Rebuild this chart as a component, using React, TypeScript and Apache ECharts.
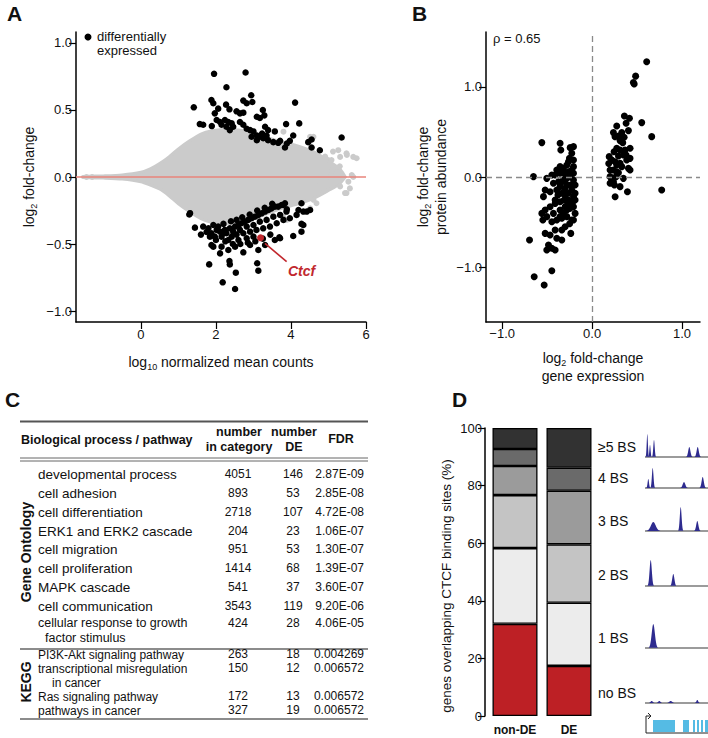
import React, { useEffect, useRef } from "react";
import * as echarts from "echarts";

// ---------- Panel A: MA plot ----------
const cloudX = [-1.55, -1.0, -0.5, 0, 0.25, 0.5, 0.75, 1.0, 1.3, 1.6, 1.9, 2.2, 2.6, 3.0, 3.4, 3.8, 4.2, 4.6, 5.0, 5.3, 5.45];
const cloudUpper = [0.004, 0.008, 0.015, 0.035, 0.06, 0.1, 0.15, 0.21, 0.27, 0.32, 0.345, 0.355, 0.35, 0.33, 0.29, 0.26, 0.23, 0.19, 0.12, 0.06, 0.0];
const cloudLower = [-0.004, -0.008, -0.015, -0.035, -0.06, -0.09, -0.14, -0.2, -0.26, -0.31, -0.34, -0.35, -0.34, -0.31, -0.27, -0.23, -0.2, -0.16, -0.1, -0.05, 0.0];
const grayOutliers = [
  [-1.45, 0], [-1.3, 0], [5.31, 0.15], [5.49, 0.165], [5.66, 0.15], [4.99, 0.127], [5.66, 0.0], [5.57, -0.085],
  [5.44, -0.12], [5.53, -0.035], [4.77, -0.06], [4.68, -0.196], [4.51, -0.234], [4.6, -0.17], [3.89, -0.32],
  [3.79, -0.296], [4.6, 0.3], [4.91, 0.152], [5.08, 0.127], [5.26, 0.2], [5.48, 0.177], [5.62, 0.015], [5.75, 0.14],
  [3.8, 0.338], [4.51, 0.3], [5.1, 0.05], [5.2, -0.04], [5.3, 0.08], [4.9, -0.1], [5.0, 0.0], [5.12, 0.19], [5.31, -0.07], [5.48, -0.12],
];
const deUp = [
  [1.95, 0.77], [2.79, 0.78], [2.28, 0.67], [2.94, 0.61], [1.41, 0.52], [1.88, 0.575], [1.93, 0.55], [2.73, 0.57], [2.82, 0.55],
  [2.97, 0.56], [4.11, 0.555], [2.27, 0.54], [2.36, 0.505], [2.06, 0.51], [1.97, 0.475], [2.55, 0.49], [2.64, 0.475], [2.73, 0.48],
  [3.25, 0.5], [3.29, 0.46], [3.09, 0.45], [3.17, 0.44], [1.57, 0.395], [1.66, 0.39], [1.89, 0.38], [2.02, 0.425], [2.11, 0.41],
  [2.24, 0.425], [2.33, 0.41], [2.42, 0.4], [2.46, 0.375], [2.28, 0.375], [2.15, 0.39], [2.37, 0.35], [2.64, 0.41], [2.73, 0.39],
  [2.82, 0.36], [2.91, 0.35], [3.0, 0.34], [3.09, 0.31], [3.17, 0.3], [3.26, 0.29], [3.39, 0.275], [3.53, 0.26], [3.66, 0.255],
  [3.09, 0.275], [3.23, 0.325], [3.35, 0.31], [2.95, 0.3], [3.31, 0.375], [3.39, 0.35], [3.57, 0.34], [3.71, 0.27], [3.84, 0.22],
  [3.89, 0.25], [3.97, 0.27], [4.06, 0.31], [3.87, 0.395], [4.22, 0.4], [4.46, 0.26], [4.55, 0.22], [4.77, 0.2], [5.35, 0.295], [4.55, 0.28],
];
const deDown = [
  [1.66, -0.37], [1.8, -0.383], [1.93, -0.358], [2.06, -0.37], [2.11, -0.408], [1.88, -0.42], [1.97, -0.445], [1.84, -0.445],
  [2.15, -0.445], [2.28, -0.42], [2.24, -0.395], [2.37, -0.383], [2.51, -0.37], [2.6, -0.358], [2.68, -0.345], [2.77, -0.333],
  [2.86, -0.32], [2.95, -0.308], [3.04, -0.296], [3.13, -0.283], [3.22, -0.271], [3.31, -0.258], [3.4, -0.246], [3.48, -0.234],
  [3.57, -0.221], [3.66, -0.221], [3.75, -0.209], [3.84, -0.196], [2.42, -0.445], [2.55, -0.43], [2.73, -0.42], [2.91, -0.408],
  [3.08, -0.395], [3.26, -0.383], [3.44, -0.37], [3.62, -0.345], [3.8, -0.32], [3.97, -0.308], [4.15, -0.283], [4.33, -0.258],
  [2.46, -0.408], [2.64, -0.395], [2.82, -0.37], [3.0, -0.358], [3.17, -0.333], [3.35, -0.32], [3.53, -0.296], [3.71, -0.283],
  [3.88, -0.258], [2.02, -0.395], [2.2, -0.42], [2.33, -0.47], [2.6, -0.47], [2.82, -0.457], [3.0, -0.445], [1.88, -0.507],
  [2.15, -0.52], [2.33, -0.545], [2.51, -0.52], [2.73, -0.562], [2.91, -0.507], [3.13, -0.545], [3.31, -0.507], [3.57, -0.47],
  [3.71, -0.457], [4.06, -0.44], [4.28, -0.408], [4.33, -0.358], [4.42, -0.258], [4.28, -0.196], [4.2, -0.246], [1.82, -0.652],
  [2.36, -0.627], [2.37, -0.652], [2.53, -0.714], [3.1, -0.644], [3.13, -0.699], [2.18, -0.786], [2.51, -0.836], [1.31, -0.27],
  [1.29, -0.28], [1.44, -0.378], [1.93, -0.52], [2.11, -0.57], [4.28, -0.35], [4.51, -0.246], [3.69, -0.45], [3.79, -0.209],
  [3.89, -0.241], [2.4, -0.33], [2.55, -0.32], [2.7, -0.3], [2.9, -0.28], [3.1, -0.25], [3.3, -0.23], [3.5, -0.2], [2.2, -0.35],
  [1.75, -0.41], [1.6, -0.43], [2.0, -0.47], [2.25, -0.48], [2.45, -0.5], [2.65, -0.5], [2.85, -0.49], [3.05, -0.48], [3.25, -0.46], [3.45, -0.43],
];
const ctcfPoint = [3.19, -0.453];
const ctcfArrow = [[3.885, -0.632], [3.307, -0.495]];

// ---------- Panel B: fold-change correlation ----------
const bPoints = [
  [0.607, 1.28], [0.484, 1.12], [0.459, 1.05], [0.468, 1.033], [0.552, 0.604], [0.663, 0.448], [0.774, -0.144],
  [0.359, 0.678], [0.415, 0.652], [0.378, 0.596], [0.274, 0.567], [0.237, 0.493], [0.293, 0.456], [0.33, 0.493], [0.356, 0.441],
  [0.404, 0.515], [0.311, 0.404], [0.341, 0.381], [0.255, 0.448], [0.274, 0.318], [0.311, 0.3], [0.244, 0.281], [0.293, 0.233],
  [0.378, 0.244], [0.422, 0.207], [0.366, 0.3], [0.422, 0.319], [0.219, 0.189], [0.256, 0.17], [0.311, 0.152], [0.274, 0.133],
  [0.33, 0.115], [0.404, 0.096], [0.348, 0.244], [0.385, 0.189], [0.237, 0.078], [0.293, 0.048], [0.267, 0.004], [0.348, -0.015],
  [0.422, 0.078], [0.2, 0.078], [0.274, 0.059], [0.2, -0.07], [0.248, -0.089], [0.311, -0.107], [0.219, -0.033], [0.2, 0.004],
  [0.237, -0.052], [0.256, -0.22], [0.393, -0.163], [0.185, 0.15], [0.19, 0.226],
  [-0.559, 0.382], [-0.356, 0.374], [-0.348, 0.3], [-0.244, 0.326], [-0.252, 0.207], [-0.652, 0.004], [-0.696, -0.7],
  [-0.644, -1.107], [-0.533, -1.2], [-0.448, -1.04], [-0.504, -0.015], [-0.448, 0.022], [-0.393, 0.078], [-0.356, 0.041],
  [-0.319, 0.096], [-0.281, 0.133], [-0.263, 0.059], [-0.226, 0.078], [-0.43, -0.07], [-0.374, -0.052], [-0.319, -0.033],
  [-0.281, -0.015], [-0.244, 0.004], [-0.207, -0.033], [-0.189, -0.089], [-0.541, -0.218], [-0.467, -0.163], [-0.393, -0.144],
  [-0.337, -0.181], [-0.3, -0.126], [-0.263, -0.181], [-0.226, -0.144], [-0.189, -0.181], [-0.522, -0.366], [-0.467, -0.33],
  [-0.411, -0.293], [-0.356, -0.274], [-0.311, -0.256], [-0.263, -0.256], [-0.215, -0.274], [-0.207, -0.33], [-0.244, -0.348],
  [-0.3, -0.33], [-0.356, -0.366], [-0.43, -0.404], [-0.559, -0.404], [-0.548, -0.478], [-0.504, -0.44], [-0.448, -0.496],
  [-0.393, -0.478], [-0.337, -0.459], [-0.281, -0.44], [-0.226, -0.478], [-0.237, -0.626], [-0.3, -0.552], [-0.337, -0.589],
  [-0.411, -0.589], [-0.522, -0.626], [-0.467, -0.644], [-0.393, -0.681], [-0.337, -0.7], [-0.485, -0.755], [-0.448, -0.792],
  [-0.504, -0.811], [-0.411, -0.811], [-0.356, 0.115], [-0.311, 0.041], [-0.263, 0.17], [-0.207, 0.189], [-0.226, 0.263],
  [-0.207, 0.337], [-0.411, 0.022], [-0.522, -0.144], [-0.356, -0.107], [-0.281, -0.089], [-0.207, 0.041], [-0.207, 0.115],
  [-0.411, -0.256], [-0.356, -0.44], [-0.281, -0.366], [-0.207, -0.218], [-0.189, -0.256], [-0.189, -0.404], [-0.207, -0.478],
  [-0.3, -0.2], [-0.33, -0.05], [-0.27, -0.3], [-0.32, -0.4], [-0.25, -0.52], [-0.38, -0.2], [-0.29, 0.0], [-0.24, -0.09],
];
const rhoText = "ρ = 0.65";

// ---------- Panel C: enrichment table ----------
const goTerms = ["developmental process", "cell adhesion", "cell differentiation", "ERK1 and ERK2 cascade", "cell migration", "cell proliferation", "MAPK cascade", "cell communication", "cellular response to growth"];
const goTermsLine2 = ["", "", "", "", "", "", "", "", "factor stimulus"];
const goCounts = [4051, 893, 2718, 204, 951, 1414, 541, 3543, 424];
const goDE = [146, 53, 107, 23, 53, 68, 37, 119, 28];
const goFDR = ["2.87E-09", "2.85E-08", "4.72E-08", "1.06E-07", "1.30E-07", "1.39E-07", "3.60E-07", "9.20E-06", "4.06E-05"];
const keggTerms = ["PI3K-Akt signaling pathway", "transcriptional misregulation", "Ras signaling pathway", "pathways in cancer"];
const keggTermsLine2 = ["", "in cancer", "", ""];
const keggCounts = [263, 150, 172, 327];
const keggDE = [18, 12, 13, 19];
const keggFDR = ["0.004269", "0.006572", "0.006572", "0.006572"];

// ---------- Panel D: CTCF binding sites ----------
const dCategories = ["non-DE", "DE"];
const bsLevels = ["no BS", "1 BS", "2 BS", "3 BS", "4 BS", "≥5 BS"];
const bsNonDE = [32.0, 26.3, 18.4, 10.1, 5.9, 7.3];
const bsDE = [17.4, 21.9, 20.3, 18.6, 8.0, 13.8];
const bsColors = ["#bd2025", "#ececec", "#c4c4c4", "#9b9b9b", "#6a6a6a", "#323232"];
// example CTCF ChIP tracks: [track, position, height, width]
const trackBase = [283, 228, 166, 111, 68, 37]; // no BS .. ≥5 BS
const peaks = [
  [5, 2.3, 23, 0.6], [5, 5, 12, 0.6], [5, 9, 17, 0.7], [5, 44.3, 10, 1.1], [5, 52.7, 10, 1.1],
  [4, 3.3, 9, 0.7], [4, 7.7, 20, 0.8], [4, 39, 6, 1.3], [4, 57.7, 11, 1.1],
  [3, 8.3, 9, 2.4], [3, 35.7, 24, 0.9], [3, 52.3, 10, 1.1],
  [2, 5.7, 26, 1.1], [2, 28.3, 12, 1.1],
  [1, 8.3, 24, 1.6],
  [0, 6.7, 2, 1.1], [0, 14.3, 2, 1.1], [0, 25.7, 2, 1.4], [0, 52.3, 3, 0.9],
];
const exons = [[8, 30], [38, 44], [48, 50], [52, 54], [56, 58], [60, 63]];

const FONT = '"Liberation Sans", Arial, Helvetica, sans-serif';

const fmt1 = (v: number) => (v < 0 ? "\u2212" : "") + Math.abs(v).toFixed(1);

const richSub = {
  a: { fontSize: 14, color: "#111", fontFamily: FONT, lineHeight: 18 },
  s: { fontSize: 9, color: "#111", fontFamily: FONT, padding: [9, 0, 0, 0] },
};

function baseAxis(extra: any) {
  return {
    axisLine: { show: true, onZero: false, lineStyle: { color: "#000", width: 1.5 } },
    axisTick: { show: true, length: 7, lineStyle: { color: "#000", width: 1.2 } },
    axisLabel: { color: "#111", fontSize: 13, fontFamily: FONT, margin: 4 },
    splitLine: { show: false },
    ...extra,
  };
}

function txt(text: string, x: number, y: number, o: any = {}) {
  return {
    type: "text",
    x,
    y,
    rotation: o.rotation || 0,
    z: 100,
    style: {
      text,
      fill: o.fill || "#111",
      fontSize: o.fontSize || 13,
      fontWeight: o.fontWeight || "normal",
      fontStyle: o.fontStyle || "normal",
      fontFamily: FONT,
      align: o.align || "left",
      verticalAlign: "middle",
    },
  };
}

function hline(x1: number, x2: number, y: number, w: number, c: string) {
  return { type: "line", z: 100, shape: { x1, y1: y, x2, y2: y }, style: { stroke: c, lineWidth: w } };
}

function buildGraphic() {
  const g: any[] = [];
  g.push(txt("A", 7, 13, { fontSize: 21, fontWeight: "bold" }));
  g.push(txt("B", 412, 13, { fontSize: 21, fontWeight: "bold" }));
  g.push(txt("C", 5, 399, { fontSize: 21, fontWeight: "bold" }));
  g.push(txt("D", 452, 399, { fontSize: 21, fontWeight: "bold" }));
  // legend in A
  g.push({ type: "circle", z: 100, shape: { cx: 88, cy: 37, r: 3.5 }, style: { fill: "#000" } });
  g.push(txt("differentially", 97, 36, { fontSize: 13 }));
  g.push(txt("expressed", 97, 50, { fontSize: 13 }));
  g.push(txt("Ctcf", 288, 271, { fontSize: 14, fontWeight: "bold", fontStyle: "italic", fill: "#c1272d" }));
  g.push(txt(rhoText, 493, 38, { fontSize: 13 }));
  // table C
  const L = 20, R = 368;
  g.push(hline(L, R, 421.5, 2, "#555"));
  g.push(hline(L, R, 458, 1, "#666"));
  g.push(hline(L, R, 461, 1, "#666"));
  g.push(hline(L, R, 649, 1.3, "#666"));
  g.push(hline(L, R, 719, 1.3, "#666"));
  g.push(txt("Biological process / pathway", 21, 440, { fontSize: 12.5, fontWeight: "bold" }));
  g.push(txt("number", 239, 432, { fontSize: 12.5, fontWeight: "bold", align: "center" }));
  g.push(txt("in category", 239, 447, { fontSize: 12.5, fontWeight: "bold", align: "center" }));
  g.push(txt("number", 294, 432, { fontSize: 12.5, fontWeight: "bold", align: "center" }));
  g.push(txt("DE", 294, 447, { fontSize: 12.5, fontWeight: "bold", align: "center" }));
  g.push(txt("FDR", 341, 439, { fontSize: 12.5, fontWeight: "bold", align: "center" }));
  const goY = [474, 493, 512, 531, 549, 568, 587, 606, 623];
  goTerms.forEach((t, i) => {
    const fs = goTermsLine2[i] ? 12.5 : 13.5;
    g.push(txt(t, 38, goY[i], { fontSize: fs }));
    if (goTermsLine2[i]) g.push(txt(goTermsLine2[i], 45, goY[i] + 15, { fontSize: fs }));
    g.push(txt(String(goCounts[i]), 238, goY[i], { fontSize: 12, align: "center" }));
    g.push(txt(String(goDE[i]), 293, goY[i], { fontSize: 12, align: "center" }));
    g.push(txt(goFDR[i], 364, goY[i], { fontSize: 12, align: "right" }));
  });
  const kY = [655, 669, 697, 711];
  keggTerms.forEach((t, i) => {
    g.push(txt(t, 38, kY[i], { fontSize: 12 }));
    if (keggTermsLine2[i]) g.push(txt(keggTermsLine2[i], 52, kY[i] + 14, { fontSize: 12 }));
    g.push(txt(String(keggCounts[i]), 238, kY[i] - 1, { fontSize: 12, align: "center" }));
    g.push(txt(String(keggDE[i]), 293, kY[i] - 1, { fontSize: 12, align: "center" }));
    g.push(txt(keggFDR[i], 364, kY[i] - 1, { fontSize: 12, align: "right" }));
  });
  g.push(txt("Gene Ontology", 26, 552, { fontSize: 14, fontWeight: "bold", align: "center", rotation: Math.PI / 2 }));
  g.push(txt("KEGG", 26, 682, { fontSize: 14, fontWeight: "bold", align: "center", rotation: Math.PI / 2 }));
  // D axis title and level labels
  g.push(txt("genes overlapping CTCF binding sites (%)", 446, 586, { fontSize: 13.5, align: "center", rotation: Math.PI / 2 }));
  const lvY = [693, 638, 575, 521, 478, 447];
  bsLevels.forEach((l, i) => g.push(txt(l, 598, lvY[i], { fontSize: 14 })));
  return g;
}

function buildOption() {
  return {
    animation: false,
    textStyle: { fontFamily: FONT },
    grid: [
      { left: 76, top: 32, width: 290, height: 290 },
      { left: 486, top: 32, width: 214, height: 290 },
      { left: 488, top: 428, width: 108, height: 288 },
      { left: 645, top: 420, width: 63, height: 318 },
    ],
    xAxis: [
      baseAxis({
        type: "value", gridIndex: 0, min: -1.73, max: 6,
        axisTick: { show: true, length: 7, lineStyle: { color: "#000", width: 1.2 }, customValues: [0, 2, 4, 6] },
        axisLabel: { color: "#111", fontSize: 13, fontFamily: FONT, margin: 6, customValues: [0, 2, 4, 6] },
        name: "{a|log}{s|10}{a| normalized mean counts}", nameLocation: "middle", nameGap: 31,
        nameTextStyle: { rich: richSub },
      }),
      baseAxis({
        type: "value", gridIndex: 1, min: -1.18, max: 1.2,
        axisTick: { show: true, length: 7, lineStyle: { color: "#000", width: 1.2 }, customValues: [-1, 0, 1] },
        axisLabel: { color: "#111", fontSize: 13, fontFamily: FONT, margin: 5, customValues: [-1, 0, 1], formatter: fmt1 },
        name: "{a|log}{s|2}{a| fold-change}\n{a|gene expression}", nameLocation: "middle", nameGap: 27,
        nameTextStyle: { rich: richSub },
      }),
      {
        type: "category", gridIndex: 2, data: dCategories,
        axisLine: { show: false }, axisTick: { show: false },
        axisLabel: { color: "#111", fontSize: 12, fontWeight: "bold", fontFamily: FONT, margin: 8, interval: 0 },
      },
      { type: "value", gridIndex: 3, min: 0, max: 63, show: false },
    ],
    yAxis: [
      baseAxis({
        type: "value", gridIndex: 0, min: -1.082, max: 1.082,
        axisTick: { show: true, length: 7, lineStyle: { color: "#000", width: 1.2 }, customValues: [-1, -0.5, 0, 0.5, 1] },
        axisLabel: { color: "#111", fontSize: 13, fontFamily: FONT, margin: 4, customValues: [-1, -0.5, 0, 0.5, 1], formatter: fmt1 },
        name: "{a|log}{s|2}{a| fold-change}", nameLocation: "middle", nameGap: 38,
        nameTextStyle: { rich: richSub },
      }),
      baseAxis({
        type: "value", gridIndex: 1, min: -1.61, max: 1.61,
        axisTick: { show: true, length: 7, lineStyle: { color: "#000", width: 1.2 }, customValues: [-1, 0, 1] },
        axisLabel: { color: "#111", fontSize: 13, fontFamily: FONT, margin: 4, customValues: [-1, 0, 1], formatter: fmt1 },
        name: "{a|log}{s|2}{a| fold-change}\n{a|protein abundance}", nameLocation: "middle", nameGap: 36,
        nameTextStyle: { rich: richSub },
      }),
      baseAxis({
        type: "value", gridIndex: 2, min: 0, max: 100, interval: 20, offset: 3,
        axisLabel: { color: "#111", fontSize: 13, fontFamily: FONT, margin: 3 },
      }),
      { type: "value", gridIndex: 3, min: 0, max: 318, inverse: true, show: false },
    ],
    series: [
      {
        type: "custom", xAxisIndex: 0, yAxisIndex: 0, silent: true, z: 1,
        data: [[0, 0]],
        renderItem: (_p: any, api: any) => {
          const pts: number[][] = [];
          for (let i = 0; i < cloudX.length; i++) pts.push(api.coord([cloudX[i], cloudUpper[i]]));
          for (let i = cloudX.length - 1; i >= 0; i--) pts.push(api.coord([cloudX[i], cloudLower[i]]));
          return { type: "polygon", shape: { points: pts, smooth: 0.25 }, style: { fill: "#cbcbcb", stroke: "#cbcbcb", lineWidth: 3 } };
        },
      },
      {
        type: "scatter", xAxisIndex: 0, yAxisIndex: 0, z: 2, silent: true,
        symbolSize: 6, itemStyle: { color: "#cbcbcb", opacity: 1 }, data: grayOutliers,
        markLine: {
          silent: true, symbol: "none", label: { show: false },
          lineStyle: { color: "#e8857b", width: 1.6, type: "solid" },
          data: [{ yAxis: 0 }],
        },
      },
      {
        type: "scatter", xAxisIndex: 0, yAxisIndex: 0, z: 3, silent: true,
        symbolSize: 6.5, itemStyle: { color: "#000", opacity: 1 }, data: [...deUp, ...deDown],
      },
      {
        type: "scatter", xAxisIndex: 0, yAxisIndex: 0, z: 4, silent: true,
        symbolSize: 7, itemStyle: { color: "#c1272d", opacity: 1 }, data: [ctcfPoint],
        markLine: {
          silent: true, symbol: ["none", "arrow"], symbolSize: [0, 8], label: { show: false },
          lineStyle: { color: "#c1272d", width: 1.6, type: "solid" },
          data: [[{ coord: ctcfArrow[0] }, { coord: ctcfArrow[1] }]],
        },
      },
      {
        type: "scatter", xAxisIndex: 1, yAxisIndex: 1, z: 3, silent: true,
        symbolSize: 7, itemStyle: { color: "#000", opacity: 1 }, data: bPoints,
        markLine: {
          silent: true, symbol: "none", label: { show: false },
          lineStyle: { color: "#8a8a8a", width: 1.3, type: [6, 4] },
          data: [{ xAxis: 0 }, { yAxis: 0 }],
        },
      },
      ...bsLevels.map((lv, i) => ({
        type: "bar", name: lv, stack: "bs", xAxisIndex: 2, yAxisIndex: 2, barWidth: 45, silent: true,
        itemStyle: { color: bsColors[i], borderColor: "#000", borderWidth: 1.3 },
        data: [bsNonDE[i], bsDE[i]],
      })),
      {
        type: "custom", xAxisIndex: 3, yAxisIndex: 3, silent: true,
        data: trackBase.map((b, i) => [i, b]),
        renderItem: (_p: any, api: any) => {
          const b = api.value(1);
          const p1 = api.coord([0, b]);
          const p2 = api.coord([63, b]);
          return { type: "line", shape: { x1: p1[0], y1: p1[1], x2: p2[0], y2: p2[1] }, style: { stroke: "#7a7a7a", lineWidth: 1.3 } };
        },
      },
      {
        type: "custom", xAxisIndex: 3, yAxisIndex: 3, silent: true,
        data: peaks,
        renderItem: (_p: any, api: any) => {
          const t = api.value(0), c = api.value(1), h = api.value(2), s = api.value(3);
          const base = trackBase[t];
          const pts: number[][] = [];
          for (let k = -12; k <= 12; k++) {
            const dx = (k / 4) * s;
            pts.push(api.coord([c + dx, base - h * Math.exp(-(dx * dx) / (2 * s * s))]));
          }
          return { type: "polygon", shape: { points: pts }, style: { fill: "#2e2b8f" } };
        },
      },
      {
        type: "custom", xAxisIndex: 3, yAxisIndex: 3, silent: true,
        data: exons,
        renderItem: (_p: any, api: any) => {
          const a = api.coord([api.value(0), 300]);
          const b = api.coord([api.value(1), 312]);
          return { type: "rect", shape: { x: a[0], y: a[1], width: b[0] - a[0], height: b[1] - a[1] }, style: { fill: "#55bbe4" } };
        },
      },
      {
        type: "custom", xAxisIndex: 3, yAxisIndex: 3, silent: true,
        data: [[0, 0]],
        renderItem: (_p: any, api: any) => {
          const p0 = api.coord([1, 313]);
          const p1 = api.coord([1, 296]);
          const p2 = api.coord([6, 296]);
          const e = api.coord([63, 313]);
          return {
            type: "group",
            children: [
              { type: "line", shape: { x1: p0[0], y1: p0[1], x2: e[0], y2: e[1] }, style: { stroke: "#222", lineWidth: 1 } },
              { type: "polyline", shape: { points: [p0, p1, p2] }, style: { stroke: "#222", lineWidth: 1, fill: "none" } },
              { type: "polyline", shape: { points: [[p2[0] - 3, p2[1] - 3], [p2[0], p2[1]], [p2[0] - 3, p2[1] + 3]] }, style: { stroke: "#222", lineWidth: 1, fill: "none" } },
            ],
          };
        },
      },
    ],
    graphic: buildGraphic(),
  };
}

export default function App() {
  const ref = useRef<HTMLDivElement>(null);
  useEffect(() => {
    if (!ref.current) return;
    const chart = echarts.init(ref.current, null, { renderer: "svg" });
    chart.setOption(buildOption() as any);
    return () => chart.dispose();
  }, []);
  return (
    <div
      ref={ref}
      style={{ position: "fixed", left: 0, top: 0, width: 708, height: 738, background: "#fff" }}
    />
  );
}
